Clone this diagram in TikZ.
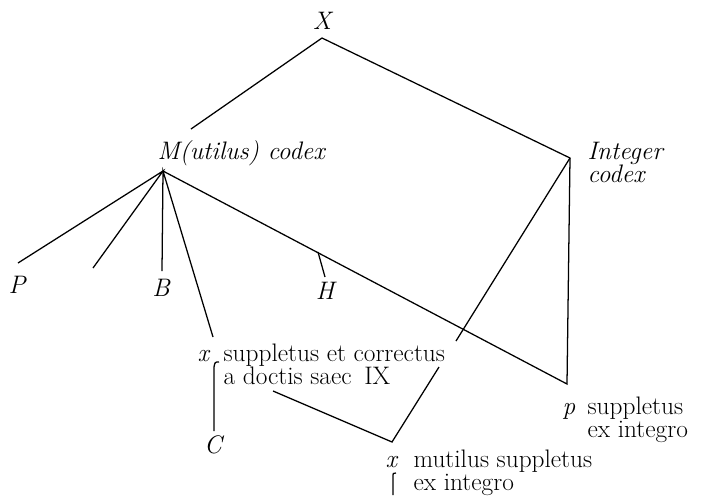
\documentclass[tikz,border=0pt]{standalone}
\usepackage{tikz}
\newcommand{\stemmafont}{\fontsize{18}{16.3}\selectfont}

\begin{document}
\begin{tikzpicture}[x=0.025cm, y=-0.025cm, line width=0.9pt,
  lab/.style={inner sep=0pt, anchor=base, font=\stemmafont\itshape},
  txt/.style={inner sep=0pt, anchor=base west, align=left, font=\stemmafont}]
\useasboundingbox (0,0) rectangle (704,495);

\coordinate (top) at (322,38);
\coordinate (mtop) at (191,129);
\coordinate (mut) at (163,171);
\coordinate (int) at (570,158);
\coordinate (pv) at (567,384);
\coordinate (xv) at (392,442);
\coordinate (xs) at (213,337);
\coordinate (pend) at (18,263);
\coordinate (lost) at (93,268);
\coordinate (bend) at (162,271);
\coordinate (hbr) at (318,252);
\coordinate (hend) at (325,277);
\coordinate (gapa) at (456,341);
\coordinate (gapb) at (439,367);
\coordinate (doct) at (273,391);
\coordinate (cbot) at (214,431);
\coordinate (xbot) at (393,495);

% two-line nodes: the base is the last line
\node[lab] (X) at (322,29) {X};
\node[lab, anchor=base west] (M) at (157,159) {M(utilus) codex};
\node[lab, anchor=base west, align=left] (I) at (587,182) {Integer\\codex};
\node[lab] (P) at (17,293) {P};
\node[lab] (B) at (161,296) {B};
\node[lab] (H) at (325,299) {H};
\node[lab] (C) at (213,453) {C};
\node[lab, anchor=base west] (x1) at (197,361) {x};
\node[txt] (sup) at (223,384) {suppletus et correctus\\a doctis saec\enspace IX};
\node[lab, anchor=base west] (x2) at (385,467) {x};
\node[txt] (mutsup) at (413,490) {mutilus suppletus\\ex integro};
\node[lab, anchor=base west] (p) at (562,414) {p};
\node[txt] (psup) at (587,437) {suppletus\\ex integro};

\draw (mtop) -- (top) -- (int) -- (pv) -- (mut);
\draw (pend) -- (mut) -- (lost);
\draw (bend) -- (mut) -- (xs);
\draw (hbr) -- (hend);
\draw (int) -- (gapa);
\draw (gapb) -- (xv) -- (doct);
\draw (219,362) .. controls (215,362) .. (214,367) -- (cbot);
\draw (396,473) .. controls (393,473) .. (393,477) -- (xbot);
\end{tikzpicture}
\end{document}
